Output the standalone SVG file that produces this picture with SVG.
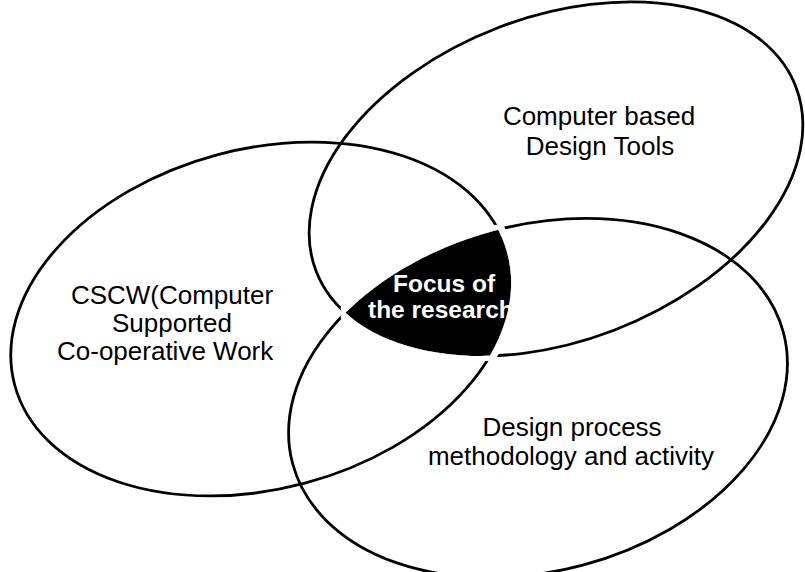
<svg xmlns="http://www.w3.org/2000/svg" width="805" height="572" viewBox="0 0 805 572">
  <style>
    .set { fill: none; stroke: #000; stroke-width: 2.8; }
    .lbl { font-family: "Liberation Sans", Arial, Helvetica, sans-serif; font-size: 26px; fill: #000; text-anchor: middle; }
    .focus { font-family: "Liberation Sans", Arial, Helvetica, sans-serif; font-size: 24.5px; font-weight: bold; fill: #fff; }
  </style>
  <defs>
    <clipPath id="clipTools">
      <ellipse cx="556" cy="179" rx="257" ry="162" transform="rotate(-21 556 179)"/>
    </clipPath>
    <clipPath id="clipProcess">
      <ellipse cx="538" cy="398" rx="254" ry="173" transform="rotate(-15 538 398)"/>
    </clipPath>
    <clipPath id="clipCscwText">
      <rect x="0" y="0" width="277" height="572"/>
    </clipPath>
    <filter id="halo" x="-20%" y="-20%" width="140%" height="140%">
      <feMorphology in="SourceAlpha" operator="dilate" radius="5" result="d"/>
      <feFlood flood-color="#ffffff"/>
      <feComposite in2="d" operator="in" result="w"/>
      <feMerge>
        <feMergeNode in="w"/>
        <feMergeNode in="SourceGraphic"/>
      </feMerge>
    </filter>
  </defs>
  <rect width="805" height="572" fill="#fff"/>

  <g id="cscw">
    <ellipse class="set" cx="261" cy="319" rx="255" ry="170" transform="rotate(-15 261 319)"/>
    <g clip-path="url(#clipCscwText)">
      <text class="lbl" x="172" y="304">CSCW(Computer</text>
      <text class="lbl" x="172" y="332">Supported</text>
      <text class="lbl" x="57" y="360" style="text-anchor:start">Co-operative Work</text>
    </g>
  </g>

  <g id="design-tools">
    <ellipse class="set" cx="556" cy="179" rx="257" ry="162" transform="rotate(-21 556 179)"/>
    <text class="lbl" x="599" y="125">Computer based</text>
    <text class="lbl" x="600" y="155">Design Tools</text>
  </g>

  <g id="design-process">
    <ellipse class="set" cx="538" cy="398" rx="254" ry="173" transform="rotate(-15 538 398)"/>
    <text class="lbl" x="572" y="436">Design process</text>
    <text class="lbl" x="571" y="465">methodology and activity</text>
  </g>

  <g id="focus">
    <g filter="url(#halo)">
      <g clip-path="url(#clipTools)">
        <g clip-path="url(#clipProcess)">
          <ellipse cx="261" cy="319" rx="255" ry="170" transform="rotate(-15 261 319)" fill="#000"/>
        </g>
      </g>
    </g>
    <text class="focus" x="393" y="292">Focus of</text>
    <text class="focus" x="368" y="318">the research</text>
  </g>
</svg>
